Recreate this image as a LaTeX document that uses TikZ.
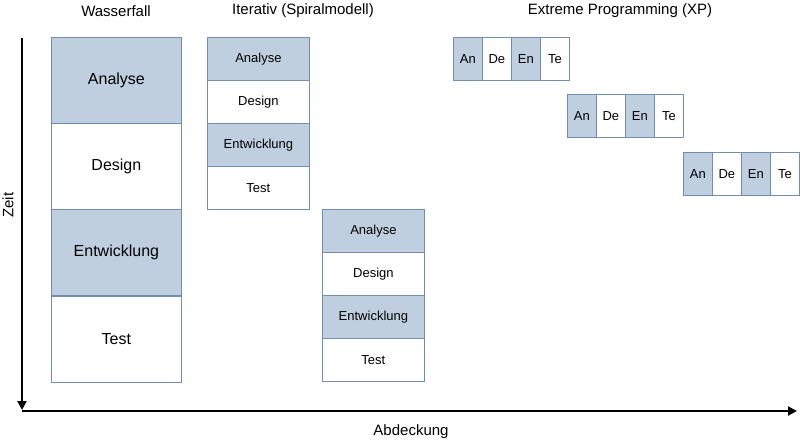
\documentclass[tikz,border=0pt]{standalone}
\usepackage{fontspec}
\setmainfont{Liberation Sans}
\usetikzlibrary{arrows.meta}
\definecolor{fillb}{HTML}{BFCFE0}
\definecolor{edgeb}{HTML}{6F8DB5}
\begin{document}
\begin{tikzpicture}[x=1pt,y=-1pt,
 cell/.style={draw=edgeb,line width=0.8pt,anchor=north west,inner sep=0pt},
 bcell/.style={cell,fill=fillb},
 wcell/.style={cell,fill=white},
 axis/.style={draw=black,line width=2pt,-{Triangle[length=9pt,width=9pt]}}]
\useasboundingbox (0,0) rectangle (800,442);
% titles
\node (t1) at (116,11) {\fontsize{15}{17}\selectfont Wasserfall};
\node (t2) at (303,11) {\fontsize{15}{17}\selectfont Iterativ (Spiralmodell)};
\node (t3) at (620,11) {\fontsize{15}{17}\selectfont Extreme Programming (XP)};
% waterfall
\foreach \yy/\t/\s [count=\i] in {37/Analyse/bcell,123/Design/wcell,209/Entwicklung/bcell,296/Test/wcell}
  \node[\s,minimum width=130pt,minimum height=86pt] (w\i) at (51,\yy) {\fontsize{16}{18}\selectfont \t};
% iterative
\foreach \xx/\yy [count=\j] in {207/37,322/209}{
 \foreach \t/\s [count=\i] in {Analyse/bcell,Design/wcell,Entwicklung/bcell,Test/wcell}
  \node[\s,minimum width=102pt,minimum height=43pt] (i\j\i) at (\xx,{\yy+(\i-1)*43}) {\fontsize{13}{15}\selectfont \t};
}
% XP
\foreach \xx/\yy [count=\j] in {453/37,567/94,683/152}{
 \foreach \t/\s [count=\i] in {An/bcell,De/wcell,En/bcell,Te/wcell}
  \node[\s,minimum width=29pt,minimum height=43pt] (x\j\i) at ({\xx+(\i-1)*29},\yy) {\fontsize{13}{15}\selectfont \t};
}
% axes
\coordinate (o) at (22,411);
\coordinate (top) at (22,38);
\coordinate (yend) at (22,410);
\coordinate (xend) at (797,411);
\draw[axis] (top) -- (yend);
\draw[axis] (o) -- (xend);
\node (xl) at (411,432) {\fontsize{15}{17}\selectfont Abdeckung};
\node[rotate=90] (yl) at (8,205) {\fontsize{15}{17}\selectfont Zeit};
\end{tikzpicture}
\end{document}
